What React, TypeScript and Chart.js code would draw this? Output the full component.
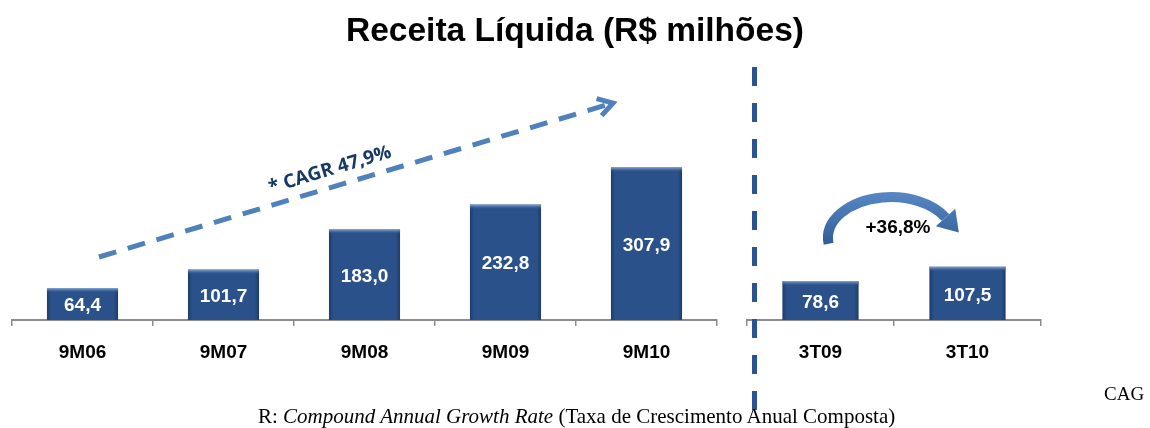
import React, { useEffect, useRef } from "react";
import { Chart, registerables } from "chart.js";

Chart.register(...registerables);

// ---- data ----
const leftCategories = ["9M06", "9M07", "9M08", "9M09", "9M10"];
const leftValues = [64.4, 101.7, 183.0, 232.8, 307.9];
const rightCategories = ["3T09", "3T10"];
const rightValues = [78.6, 107.5];
const titleText = "Receita Líquida (R$ milhões)";
const cagrLabel = "* CAGR 47,9%";
const growthLabel = "+36,8%";
const footnoteHead = "R: ";
const footnoteItalic = "Compound Annual Growth Rate";
const footnoteTail = " (Taxa de Crescimento Anual Composta)";
const footnoteTop = "CAG";
const yMax = 504;

// ---- styles ----
const W = 1150;
const H = 428;
const SANS = '"Liberation Sans", Arial, sans-serif';
const SERIF = '"Liberation Serif", "Times New Roman", serif';
const BAR = "#2A5189";
const AXIS = "#8C8C8C";

const fmt = (v: number) => v.toFixed(1).replace(".", ",");

const barPlugin = {
  id: "barLook",
  afterDatasetsDraw(chart: any) {
    const ctx = chart.ctx;
    const meta = chart.getDatasetMeta(0);
    const data = chart.data.datasets[0].data as number[];
    meta.data.forEach((bar: any, i: number) => {
      const { x, y, base, width } = bar.getProps(["x", "y", "base", "width"], true);
      const left = x - width / 2;
      const h = base - y;
      ctx.save();
      const g = ctx.createLinearGradient(left, 0, left + width, 0);
      g.addColorStop(0, "rgba(15,35,70,0.45)");
      g.addColorStop(0.06, "rgba(15,35,70,0)");
      g.addColorStop(0.94, "rgba(15,35,70,0)");
      g.addColorStop(1, "rgba(15,35,70,0.45)");
      ctx.fillStyle = g;
      ctx.fillRect(left, y, width, h);
      const tg = ctx.createLinearGradient(0, y, 0, y + 5);
      tg.addColorStop(0, "rgba(140,172,215,1)");
      tg.addColorStop(1, "rgba(42,81,137,0)");
      ctx.fillStyle = tg;
      ctx.fillRect(left, y, width, 5);
      ctx.fillStyle = "#FFFFFF";
      ctx.font = `bold 19px ${SANS}`;
      ctx.textAlign = "center";
      ctx.textBaseline = "middle";
      ctx.fillText(fmt(data[i]), x, (y + base) / 2 + 2);
      ctx.restore();
    });
  },
};

const cagrPlugin = {
  id: "cagrArrow",
  afterDraw(chart: any) {
    const ctx = chart.ctx;
    const x0 = 99, y0 = 257, x1 = 613, y1 = 103;
    const ang = Math.atan2(y1 - y0, x1 - x0);
    ctx.save();
    ctx.strokeStyle = "#4F81BD";
    ctx.lineWidth = 5;
    ctx.setLineDash([18, 12]);
    ctx.beginPath();
    ctx.moveTo(x0, y0);
    ctx.lineTo(x1 - 4 * Math.cos(ang), y1 - 4 * Math.sin(ang));
    ctx.stroke();
    ctx.setLineDash([]);
    ctx.lineJoin = "miter";
    ctx.beginPath();
    const arm = 17;
    ctx.moveTo(x1 - arm * Math.cos(ang - 0.55), y1 - arm * Math.sin(ang - 0.55));
    ctx.lineTo(x1, y1);
    ctx.lineTo(x1 - arm * Math.cos(ang + 0.55), y1 - arm * Math.sin(ang + 0.55));
    ctx.stroke();
    ctx.translate(330, 170);
    ctx.rotate(ang);
    ctx.fillStyle = "#163A66";
    ctx.font = `bold 19px "Open Sans", ${SANS}`;
    ctx.textAlign = "center";
    ctx.textBaseline = "middle";
    ctx.fillText(cagrLabel, 0, 0);
    ctx.restore();
  },
};

const rightDecor = {
  id: "rightDecor",
  afterDraw(chart: any) {
    const ctx = chart.ctx;
    ctx.save();
    // vertical separator
    ctx.strokeStyle = "#2A5491";
    ctx.lineWidth = 5;
    ctx.setLineDash([19, 17]);
    ctx.beginPath();
    ctx.moveTo(754.5, 67);
    ctx.lineTo(754.5, 414);
    ctx.stroke();
    ctx.setLineDash([]);
    // curved arrow
    const cx = 891, cy = 238, rx = 63, ry = 41;
    const t0 = (172 * Math.PI) / 180;
    const t1 = (330 * Math.PI) / 180;
    const grad = ctx.createLinearGradient(0, 195, 0, 245);
    grad.addColorStop(0, "#5686C2");
    grad.addColorStop(1, "#2F5D96");
    ctx.strokeStyle = grad;
    ctx.fillStyle = grad;
    ctx.lineWidth = 10;
    ctx.beginPath();
    ctx.ellipse(cx, cy, rx, ry, 0, t0, t1, false);
    ctx.stroke();
    const ex = cx + rx * Math.cos(t1);
    const ey = cy + ry * Math.sin(t1);
    let dx = -rx * Math.sin(t1), dy = ry * Math.cos(t1);
    const len = Math.hypot(dx, dy);
    dx /= len; dy /= len;
    const px = -dy, py = dx;
    ctx.beginPath();
    ctx.moveTo(ex + px * 13, ey + py * 13);
    ctx.lineTo(ex + dx * 20, ey + dy * 20);
    ctx.lineTo(ex - px * 13, ey - py * 13);
    ctx.closePath();
    ctx.fill();
    ctx.fillStyle = "#000";
    ctx.font = `bold 19px ${SANS}`;
    ctx.textAlign = "center";
    ctx.textBaseline = "middle";
    ctx.fillText(growthLabel, 898, 228);
    ctx.restore();
  },
};

function barConfig(labels: string[], values: number[], pad: any, barPct: number, extra: any) {
  return {
    type: "bar" as const,
    data: {
      labels,
      datasets: [
        {
          data: values,
          backgroundColor: BAR,
          borderWidth: 0,
          barPercentage: barPct,
          categoryPercentage: 1,
        },
      ],
    },
    options: {
      animation: false as const,
      responsive: false,
      maintainAspectRatio: false,
      events: [] as any[],
      layout: { padding: pad },
      plugins: {
        legend: { display: false },
        tooltip: { enabled: false },
        title: { display: false },
      },
      scales: {
        x: {
          grid: {
            display: true,
            drawOnChartArea: false,
            drawTicks: true,
            tickLength: 6,
            color: AXIS,
            lineWidth: 1.5,
            offset: true,
          },
          border: { display: true, color: AXIS, width: 2 },
          ticks: {
            color: "#000",
            font: { family: SANS, size: 19, weight: "bold" as const },
            padding: 15,
            maxRotation: 0,
            autoSkip: false,
          },
          afterFit: (s: any) => {
            s.height = 40;
          },
        },
        y: { display: false, min: 0, max: yMax },
      },
    },
    plugins: [barPlugin, extra],
  };
}

export default function App() {
  const leftRef = useRef<HTMLCanvasElement | null>(null);
  const rightRef = useRef<HTMLCanvasElement | null>(null);

  useEffect(() => {
    const a = new Chart(
      leftRef.current as HTMLCanvasElement,
      barConfig(leftCategories, leftValues, { left: 12, right: 433, top: 70, bottom: 68 }, 0.504, cagrPlugin) as any
    );
    const b = new Chart(
      rightRef.current as HTMLCanvasElement,
      barConfig(rightCategories, rightValues, { left: 747, right: 109, top: 70, bottom: 68 }, 0.517, rightDecor) as any
    );
    return () => {
      a.destroy();
      b.destroy();
    };
  }, []);

  return (
    <div
      style={{
        position: "absolute",
        left: 0,
        top: 0,
        width: W,
        height: H,
        background: "#fff",
        overflow: "hidden",
      }}
    >
      <canvas ref={leftRef} width={W} height={H} style={{ position: "absolute", left: 0, top: 0 }} />
      <canvas ref={rightRef} width={W} height={H} style={{ position: "absolute", left: 0, top: 0 }} />
      <div
        style={{
          position: "absolute",
          left: 0,
          top: 13,
          width: W,
          textAlign: "center",
          font: `bold 33.5px ${SANS}`,
          lineHeight: "33px",
          color: "#000",
          whiteSpace: "nowrap",
        }}
      >
        {titleText}
      </div>
      <div
        style={{
          position: "absolute",
          left: 1104,
          top: 384,
          font: `19px ${SERIF}`,
          lineHeight: "20px",
          color: "#000",
          whiteSpace: "nowrap",
        }}
      >
        {footnoteTop}
      </div>
      <div
        style={{
          position: "absolute",
          left: 258,
          top: 406,
          font: `21px ${SERIF}`,
          lineHeight: "20px",
          color: "#000",
          whiteSpace: "nowrap",
        }}
      >
        {footnoteHead}
        <i>{footnoteItalic}</i>
        {footnoteTail}
      </div>
    </div>
  );
}
